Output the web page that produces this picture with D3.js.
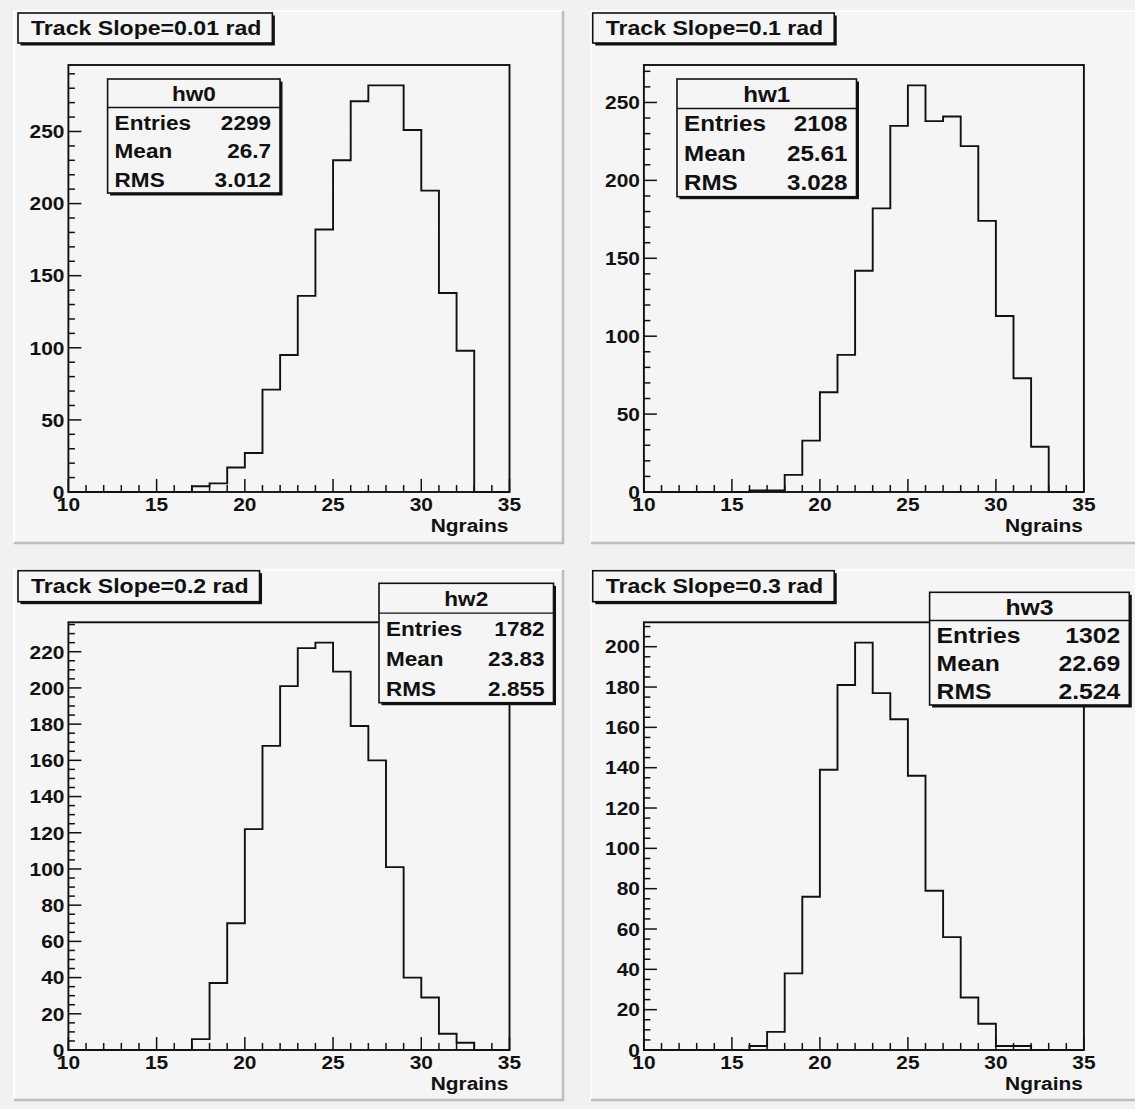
<!DOCTYPE html>
<html>
<head>
<meta charset="utf-8">
<script src="https://cdn.jsdelivr.net/npm/d3@7"></script>
<style>
  html, body { margin: 0; padding: 0; background: #f1f1f1; }
  svg { display: block; }
  text { font-family: "Liberation Sans", Arial, Helvetica, sans-serif; font-weight: bold; fill: #111; }
</style>
</head>
<body>
<svg id="chart" width="1135" height="1109"></svg>
<script>
// histogram contents, one count per unit bin from 10 to 35
const xMin = 10;
const xMax = 35;
const counts0 = [0, 0, 0, 0, 0, 0, 0, 4, 6, 17, 27, 71, 95, 136, 182, 230, 271, 282, 282, 251, 209, 138, 98, 0, 0];
const counts1 = [0, 0, 0, 0, 0, 0, 1, 1, 11, 33, 64, 88, 142, 182, 235, 261, 238, 241, 222, 174, 113, 73, 29, 0, 0];
const counts2 = [0, 0, 0, 0, 0, 0, 0, 6, 37, 70, 122, 168, 201, 222, 225, 209, 179, 160, 101, 40, 29, 9, 4, 0, 0];
const counts3 = [0, 0, 0, 0, 0, 0, 2, 9, 38, 76, 139, 181, 202, 177, 164, 136, 79, 56, 26, 13, 2, 2, 0, 0, 0];
const allCounts = [counts0, counts1, counts2, counts3];

const titles = ["Track Slope=0.01 rad", "Track Slope=0.1 rad", "Track Slope=0.2 rad", "Track Slope=0.3 rad"];
const histNames = ["hw0", "hw1", "hw2", "hw3"];
const entries = ["2299", "2108", "1782", "1302"];
const means = ["26.7", "25.61", "23.83", "22.69"];
const rmsVals = ["3.012", "3.028", "2.855", "2.524"];
const statLabels = ["Entries", "Mean", "RMS"];
const xLabel = "Ngrains";

// y axis divisions: [major step, minor step]
const yDivs = [[50, 10], [50, 10], [20, 5], [20, 5]];

// layout of the 2x2 canvas (pixels)
const layout = [
  { pad: [14, 11, 549, 532], frame: [68.4, 65, 509.5, 492], title: [18, 13, 43], stats: [107.6, 79, 280, 193], fs: 20.5 },
  { pad: [591, 11, 560, 532], frame: [643.9, 65, 1083.9, 492], title: [592.7, 13, 43], stats: [677, 79, 856.5, 196.7], fs: 22 },
  { pad: [14, 570, 549, 530], frame: [68.4, 622.3, 509.5, 1050], title: [18, 570.7, 601.7], stats: [379, 583.3, 553.5, 702.7], fs: 20.5 },
  { pad: [591, 570, 560, 530], frame: [643.9, 622.3, 1083.9, 1050], title: [592.7, 570.7, 601.7], stats: [929.6, 592.3, 1129.3, 705], fs: 22.5 }
];

const SX = 1.1; // the original font is a bit wider than Liberation Sans
const tickFont = 19;
const fill = "#f5f5f5";

const svg = d3.select("#chart");

function label(g, x, y, s, size, anchor) {
  return g.append("text")
    .attr("transform", `translate(${x},${y}) scale(${SX},1)`)
    .attr("text-anchor", anchor)
    .attr("font-size", size)
    .text(s);
}

function drawPanel(i) {
  const L = layout[i];
  const counts = allCounts[i];
  const g = svg.append("g");

  // pad with bevel border
  const [px, py, pw, ph] = L.pad;
  g.append("rect").attr("x", px).attr("y", py).attr("width", pw).attr("height", ph).attr("fill", fill);
  g.append("path")
    .attr("d", `M${px},${py + ph} L${px},${py} L${px + pw},${py}`)
    .attr("fill", "none").attr("stroke", "#ffffff").attr("stroke-width", 1.5);
  g.append("path")
    .attr("d", `M${px},${py + ph} L${px + pw},${py + ph} L${px + pw},${py}`)
    .attr("fill", "none").attr("stroke", "#bdbdbd").attr("stroke-width", 2.5);

  const [fx0, fy0, fx1, fy1] = L.frame;
  const yMax = d3.max(counts) * 1.05;
  const x = d3.scaleLinear().domain([xMin, xMax]).range([fx0, fx1]);
  const y = d3.scaleLinear().domain([0, yMax]).range([fy1, fy0]);

  g.append("rect")
    .attr("x", fx0).attr("y", fy0).attr("width", fx1 - fx0).attr("height", fy1 - fy0)
    .attr("fill", fill).attr("stroke", "#111").attr("stroke-width", 1.9);

  // histogram outline
  const pts = [[xMin, 0]];
  counts.forEach((c, k) => pts.push([xMin + k, c]));
  pts.push([xMax, counts[counts.length - 1]]);
  pts.push([xMax, 0]);
  const line = d3.line().x(d => x(d[0])).y(d => y(d[1])).curve(d3.curveStepAfter);
  g.append("path").attr("d", line(pts))
    .attr("fill", "none").attr("stroke", "#111").attr("stroke-width", 1.9);

  // x ticks, drawn inside the frame
  const tg = g.append("g").attr("stroke", "#111").attr("stroke-width", 1.5);
  d3.range(xMin, xMax + 0.001, 1).forEach(v => {
    const len = v % 5 === 0 ? 13 : 7;
    tg.append("line").attr("x1", x(v)).attr("x2", x(v)).attr("y1", fy1).attr("y2", fy1 - len);
  });
  x.ticks(5).forEach(v => label(g, x(v), fy1 + 19, String(v), tickFont, "middle"));
  label(g, fx1 - 1, fy1 + 40, xLabel, tickFont, "end");

  // y ticks
  const [major, minor] = yDivs[i];
  d3.range(0, yMax, minor).forEach(v => {
    const isMajor = Math.abs(v / major - Math.round(v / major)) < 1e-6;
    tg.append("line").attr("x1", fx0).attr("x2", fx0 + (isMajor ? 13 : 6.5)).attr("y1", y(v)).attr("y2", y(v));
  });
  d3.range(0, yMax, major).forEach(v => label(g, fx0 - 4, y(v) + 6.8, String(v), tickFont, "end"));

  // title box
  const [tx, ty0, ty1] = L.title;
  const tbox = g.append("g");
  const tt = label(g, tx + 13, ty0 + 22, titles[i], 21, "start");
  const tw = tt.node().getComputedTextLength() * SX + 24;
  tbox.append("rect").attr("x", tx + 2.5).attr("y", ty0 + 2.5).attr("width", tw).attr("height", ty1 - ty0).attr("fill", "#111");
  tbox.append("rect").attr("x", tx).attr("y", ty0).attr("width", tw).attr("height", ty1 - ty0)
    .attr("fill", fill).attr("stroke", "#111").attr("stroke-width", 1.6);
  tt.raise();

  // statistics box
  const [sx0, sy0, sx1, sy1] = L.stats;
  const rowH = (sy1 - sy0) / 4;
  const sg = g.append("g");
  sg.append("rect").attr("x", sx0 + 2.5).attr("y", sy0 + 2.5).attr("width", sx1 - sx0).attr("height", sy1 - sy0).attr("fill", "#111");
  sg.append("rect").attr("x", sx0).attr("y", sy0).attr("width", sx1 - sx0).attr("height", sy1 - sy0)
    .attr("fill", fill).attr("stroke", "#111").attr("stroke-width", 1.6);
  sg.append("line").attr("x1", sx0).attr("x2", sx1).attr("y1", sy0 + rowH).attr("y2", sy0 + rowH)
    .attr("stroke", "#111").attr("stroke-width", 1.4);
  const off = L.fs * 0.38;
  label(sg, (sx0 + sx1) / 2, sy0 + rowH * 0.5 + off, histNames[i], L.fs, "middle");
  const vals = [entries[i], means[i], rmsVals[i]];
  statLabels.forEach((s, k) => {
    const by = sy0 + rowH * (k + 1.5) + off;
    label(sg, sx0 + 7, by, s, L.fs, "start");
    label(sg, sx1 - 9, by, vals[k], L.fs, "end");
  });
}

[0, 1, 2, 3].forEach(drawPanel);
</script>
</body>
</html>
